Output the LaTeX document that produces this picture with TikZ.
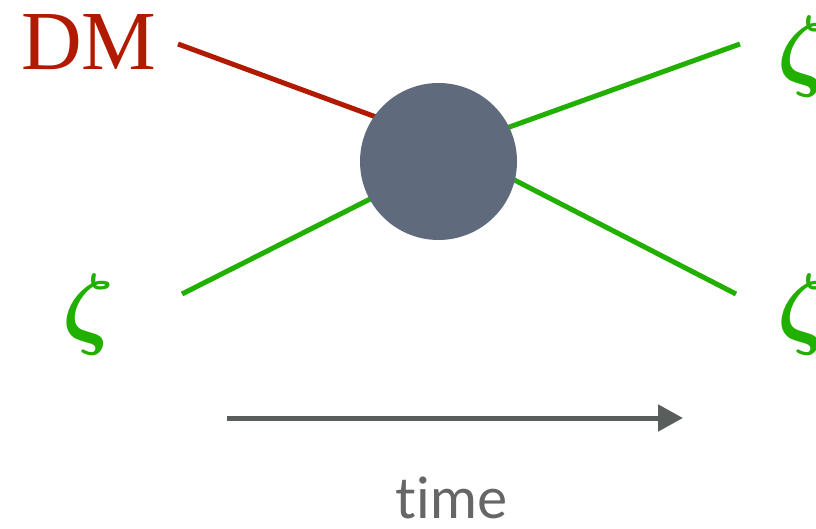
\documentclass[tikz,border=0pt]{standalone}
\usepackage{fontspec}
\usepackage{unicode-math}
\newfontfamily\dmfont{Liberation Serif}
\newfontfamily\timefont[Ligatures={NoCommon}]{Lato}
\definecolor{dmred}{HTML}{B01A00}
\definecolor{zgreen}{HTML}{22B000}
\definecolor{blobgray}{HTML}{5F6B7D}
\definecolor{arrowgray}{HTML}{595E5C}
\definecolor{textgray}{HTML}{666666}
\usetikzlibrary{arrows.meta}
\begin{document}
\begin{tikzpicture}[x=1pt,y=-1pt,
  redline/.style={draw=dmred,line width=5pt},
  greenline/.style={draw=zgreen,line width=5pt},
  zlabel/.style={text=zgreen,inner sep=0pt,font=\fontsize{91}{91}\selectfont},
]
\useasboundingbox (0,0) rectangle (816,529);
% endpoints
\coordinate (dmend) at (178,44);
\coordinate (dmin) at (395,124);
\coordinate (trend) at (740,44);
\coordinate (trin) at (490,134);
\coordinate (blend) at (182,294);
\coordinate (blin) at (390,189);
\coordinate (brend) at (736,294);
\coordinate (brin) at (495,170);
\draw[redline] (dmend) -- (dmin);
\draw[greenline] (trin) -- (trend);
\draw[greenline] (blend) -- (blin);
\draw[greenline] (brin) -- (brend);
\node[circle,fill=blobgray,minimum size=157pt,inner sep=0pt] (blob) at (438.5,161.5) {};
% labels
\node[anchor=base west,inner sep=0pt,text=dmred,font=\dmfont\fontsize{84}{84}\selectfont] (dm) at (21,70) {DM};
\node[zlabel,anchor=north west] (zbl) at (62,273) {$\symbfit{\zeta}$};
\node[zlabel,anchor=north west] (ztr) at (777,15) {$\symbfit{\zeta}$};
\node[zlabel,anchor=north west] (zbr) at (777,273) {$\symbfit{\zeta}$};
% time arrow
\coordinate (tstart) at (227,418);
\coordinate (tend) at (683,418);
\draw[draw=arrowgray,line width=5pt,-{Triangle[length=25pt,width=26pt]}] (tstart) -- (tend);
\node[anchor=base,inner sep=0pt,text=textgray,font=\timefont\fontsize{57}{57}\selectfont] (time) at (451.5,518) {time};
\end{tikzpicture}
\end{document}
